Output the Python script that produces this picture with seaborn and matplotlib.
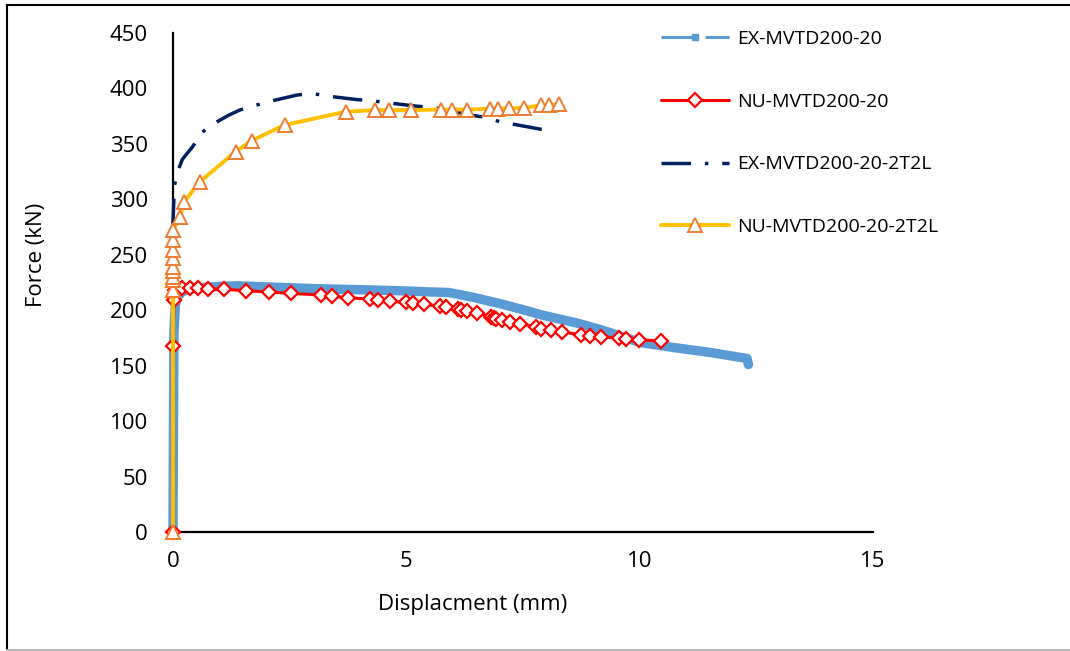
import numpy as np
import pandas as pd
import matplotlib
matplotlib.use('Agg')
import matplotlib.pyplot as plt
import seaborn as sns
from matplotlib.lines import Line2D

# EX-MVTD200-20 (experiment)
ex20_disp = [0, 0.01, 0.02, 0.05, 0.1, 0.2, 0.5, 1.0, 1.4, 2.0, 3.0, 4.0, 4.9, 5.5, 5.9,
             6.1, 6.5, 7.0, 7.5, 7.9, 8.7, 9.2, 10.0, 10.7, 11.5, 12.15, 12.3, 12.33]
ex20_force = [0, 100, 180, 205, 212, 217, 220, 221.5, 222, 221, 219.5, 218.5, 217.5, 216.5, 216,
              214.5, 211, 206, 200.5, 195.7, 188, 182, 171, 166.5, 162, 157.5, 156.5, 151]

# NU-MVTD200-20 (numerical)
nu20_disp = [0, 0, 0.02, 0.05, 0.19, 0.36, 0.53, 0.74, 1.09, 1.57, 2.06, 2.52, 3.17, 3.40, 3.74,
             4.22, 4.40, 4.65, 4.99, 5.15, 5.38, 5.72, 5.86, 6.10, 6.18, 6.31, 6.52, 6.82,
             6.87, 6.93, 7.04, 7.22, 7.44, 7.77, 7.89, 8.09, 8.34, 8.75, 8.94, 9.17, 9.56,
             9.70, 9.99, 10.45]
nu20_force = [0, 168, 209, 218, 219.7, 219.7, 219.7, 219, 218.8, 217.6, 216.4, 215.2, 213.7, 212.5,
              211.3, 210, 209.2, 208, 207, 206.2, 205.3, 203.6, 202.5, 200.8, 199.8, 198.9,
              197.5, 194.2, 193.3, 192.3, 191.2, 189.7, 187.6, 185.2, 183.1, 182.2, 180.4,
              177.7, 176.8, 176.2, 174.7, 173.8, 173.1, 172.5]

# EX-MVTD200-20-2T2L (experiment)
ex2t_disp = [0, 0, 0, 0.03, 0.1, 0.2, 0.43, 0.61, 0.86, 1.2, 1.43, 1.74, 2.04, 2.65, 2.98,
             3.33, 3.93, 4.25, 4.61, 5.22, 5.56, 5.86, 6.36, 6.70, 7.0, 7.65, 7.97]
ex2t_force = [0, 150, 280, 312, 325, 336, 348, 360, 368, 376, 380.5, 384.4, 388, 394, 395.5,
              393, 390, 389, 387, 384, 383, 381, 376, 374, 370, 365, 362.5]

# NU-MVTD200-20-2T2L (numerical)
nu2t_disp = [0, 0, 0, 0, 0, 0, 0, 0, 0, 0, 0.15, 0.24, 0.58, 1.34, 1.69, 2.39, 3.70, 4.33,
             4.63, 5.09, 5.74, 5.97, 6.31, 6.79, 6.97, 7.21, 7.52, 7.89, 8.06, 8.28]
nu2t_force = [0, 218, 227, 230, 235, 239, 247, 254, 263, 272, 284, 298, 316, 343, 353, 367,
              379, 380.5, 380.5, 380.5, 381, 381, 381, 381.7, 381.7, 382, 382.5, 384.7, 385, 386]

labels = ['EX-MVTD200-20', 'NU-MVTD200-20', 'EX-MVTD200-20-2T2L', 'NU-MVTD200-20-2T2L']

sns.set_style('white')
plt.rcParams['font.family'] = ['Open Sans', 'DejaVu Sans']
plt.rcParams['text.color'] = 'black'
plt.rcParams['axes.labelcolor'] = 'black'
plt.rcParams['xtick.color'] = 'black'
plt.rcParams['ytick.color'] = 'black'

fig = plt.figure(figsize=(10.7, 6.51), dpi=100)
ax = fig.add_axes([173 / 1070, 119 / 651, 700 / 1070, 499 / 651])

blue = '#5B9BD5'
red = '#FF0000'
navy = '#002060'
gold = '#FFC000'
orange = '#ED7D31'
dashdot = (0, (8.5, 4, 1, 4))

sns.lineplot(x=ex20_disp, y=ex20_force, ax=ax, sort=False, estimator=None,
             color=blue, linewidth=6.8, solid_capstyle='round', solid_joinstyle='round',
             clip_on=False)
sns.lineplot(x=nu20_disp, y=nu20_force, ax=ax, sort=False, estimator=None,
             color=red, linewidth=2.2, marker='D', markersize=7.5, markerfacecolor='white',
             markeredgecolor=red, markeredgewidth=1.6, clip_on=False)
sns.lineplot(x=ex2t_disp, y=ex2t_force, ax=ax, sort=False, estimator=None,
             color=navy, linewidth=2.5, linestyle=dashdot, clip_on=False)
sns.lineplot(x=nu2t_disp, y=nu2t_force, ax=ax, sort=False, estimator=None,
             color=gold, linewidth=2.8, marker='^', markersize=10.5, markerfacecolor='white',
             markeredgecolor=orange, markeredgewidth=1.4, clip_on=False)

ax.set_xlim(0, 15)
ax.set_ylim(0, 450)
ax.set_xticks([0, 5, 10, 15])
ax.set_yticks(np.arange(0, 451, 50))
ax.tick_params(axis='both', length=0, labelsize=16, labelcolor='black')
ax.tick_params(axis='x', pad=14)
ax.tick_params(axis='y', pad=18)
for s in ['top', 'right']:
    ax.spines[s].set_visible(False)
for s in ['left', 'bottom']:
    ax.spines[s].set_color('black')
    ax.spines[s].set_linewidth(1.6)
    ax.spines[s].set_zorder(0)

ax.set_xlabel('Displacment (mm)', fontsize=16, color='black')
ax.set_ylabel('Force (kN)', fontsize=16, color='black')
ax.xaxis.set_label_coords(0.4286, -0.125)
ax.yaxis.set_label_coords(-0.18, 0.555)

handles = [
    Line2D([], [], color=blue, linewidth=2.2, linestyle=(0, (12, 2.5)), marker='s',
           markersize=5, markerfacecolor=blue, markeredgecolor=blue),
    Line2D([], [], color=red, linewidth=2.2, marker='D', markersize=7.5,
           markerfacecolor='white', markeredgecolor=red, markeredgewidth=1.6),
    Line2D([], [], color=navy, linewidth=2.5, linestyle=dashdot),
    Line2D([], [], color=gold, linewidth=2.8, marker='^', markersize=10.5,
           markerfacecolor='white', markeredgecolor=orange, markeredgewidth=1.4),
]
fig.legend(handles, labels, loc='upper left', bbox_to_anchor=(661 / 1070, 1 - 30 / 651),
           frameon=False, fontsize=14, handlelength=3.5, handletextpad=0.4,
           labelspacing=2.3, borderpad=0, borderaxespad=0, numpoints=1)

# outer frame like the exported chart
fig.add_artist(Line2D([7 / 1070, 7 / 1070], [1 / 651, 1 - 5 / 651], color='black',
                      linewidth=1.5, transform=fig.transFigure))
fig.add_artist(Line2D([7 / 1070, 1], [1 - 5 / 651, 1 - 5 / 651], color='black',
                      linewidth=1.5, transform=fig.transFigure))
fig.add_artist(Line2D([7 / 1070, 1], [1 / 651, 1 / 651], color='#BBBBBB',
                      linewidth=1.5, transform=fig.transFigure))

fig.savefig('out.png', dpi=100)
